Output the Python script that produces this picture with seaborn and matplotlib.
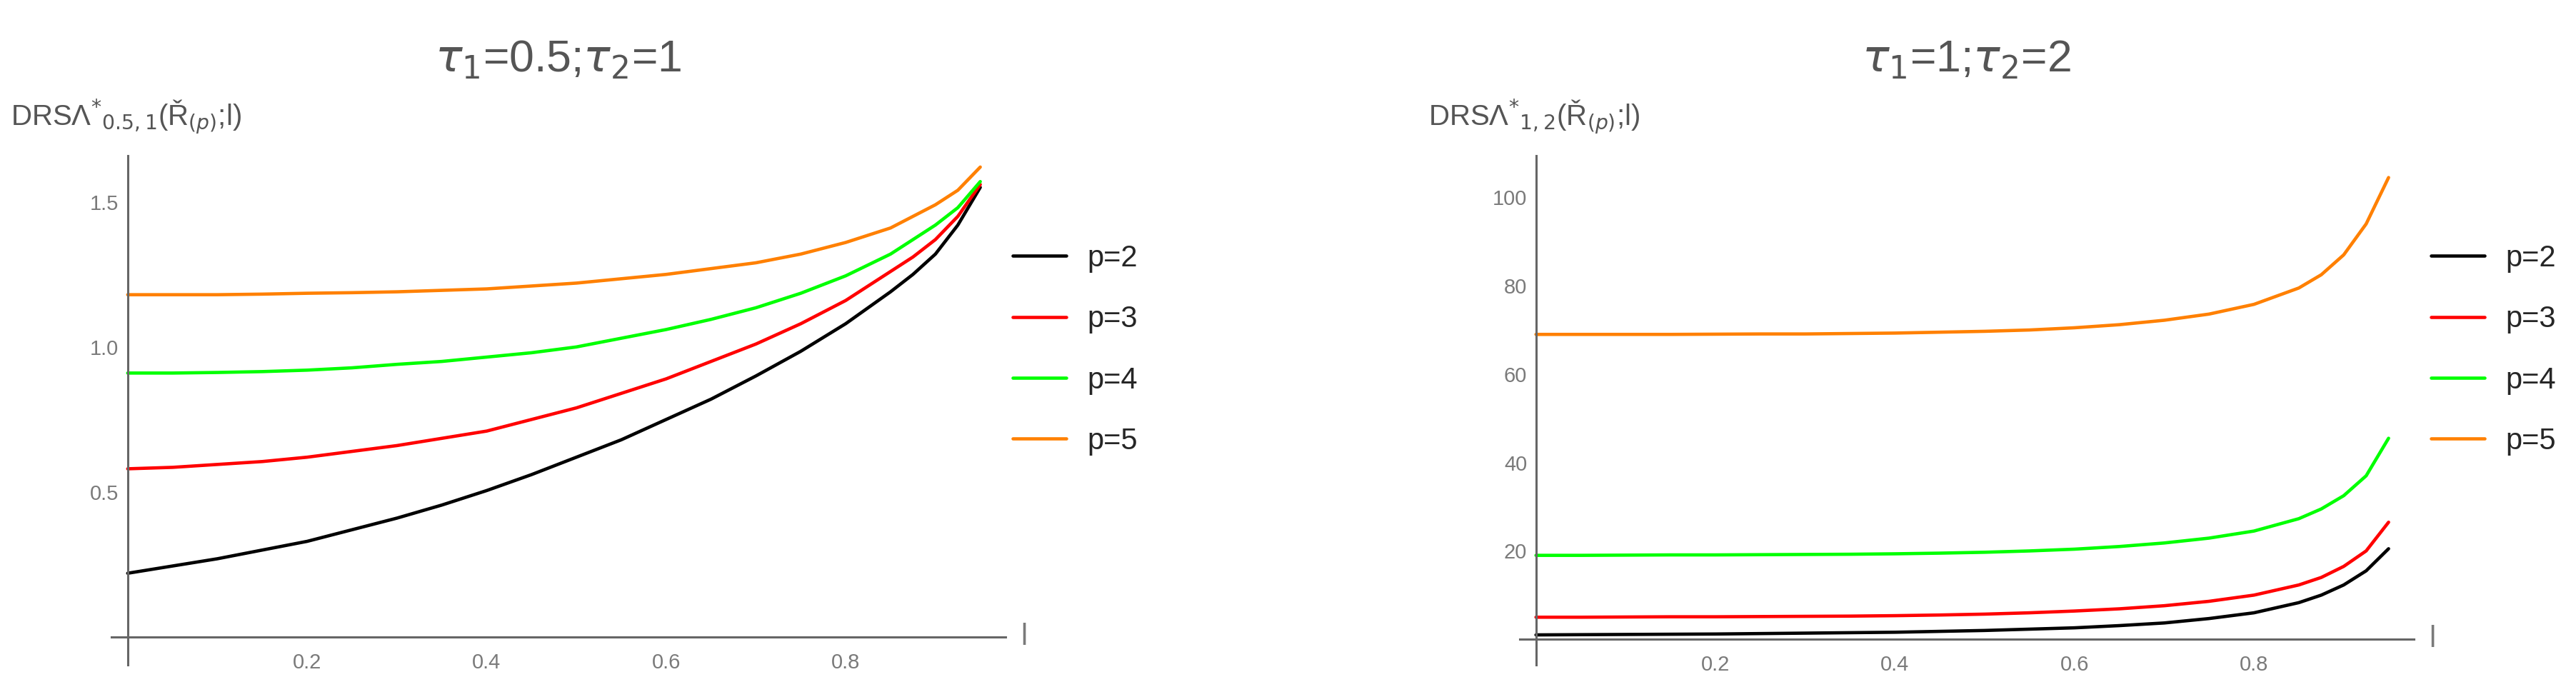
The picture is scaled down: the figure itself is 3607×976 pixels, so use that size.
import matplotlib
matplotlib.use("Agg")
import matplotlib.pyplot as plt
from matplotlib.ticker import FixedLocator
import pandas as pd
import seaborn as sns

# l grid shared by every curve
l_values = [0.0, 0.05, 0.1, 0.15, 0.2, 0.25, 0.3, 0.35, 0.4, 0.45, 0.5, 0.55, 0.6,
            0.65, 0.7, 0.75, 0.8, 0.85, 0.875, 0.9, 0.925, 0.95]

# tau1=0.5, tau2=1
left_p2 = [0.22, 0.245, 0.27, 0.30, 0.33, 0.37, 0.41, 0.455, 0.505, 0.56, 0.62, 0.68, 0.75,
           0.82, 0.90, 0.985, 1.08, 1.19, 1.25, 1.32, 1.42, 1.55]
left_p3 = [0.58, 0.585, 0.595, 0.605, 0.62, 0.64, 0.66, 0.685, 0.71, 0.75, 0.79, 0.84, 0.89,
           0.95, 1.01, 1.08, 1.16, 1.26, 1.31, 1.37, 1.45, 1.56]
left_p4 = [0.91, 0.91, 0.912, 0.915, 0.92, 0.928, 0.94, 0.95, 0.965, 0.98, 1.0, 1.03, 1.06,
           1.095, 1.135, 1.185, 1.245, 1.32, 1.37, 1.42, 1.48, 1.57]
left_p5 = [1.18, 1.18, 1.18, 1.182, 1.185, 1.187, 1.19, 1.195, 1.20, 1.21, 1.22, 1.235, 1.25,
           1.27, 1.29, 1.32, 1.36, 1.41, 1.45, 1.49, 1.54, 1.62]

# tau1=1, tau2=2
right_p2 = [1.0, 1.05, 1.1, 1.15, 1.2, 1.3, 1.4, 1.5, 1.6, 1.8, 2.0, 2.3, 2.6,
            3.1, 3.7, 4.7, 6.0, 8.3, 10.0, 12.3, 15.5, 20.5]
right_p3 = [5.0, 5.0, 5.05, 5.1, 5.1, 5.15, 5.2, 5.25, 5.35, 5.5, 5.7, 6.0, 6.4,
            6.9, 7.6, 8.6, 10.0, 12.3, 14.0, 16.5, 20.0, 26.5]
right_p4 = [19.0, 19.0, 19.05, 19.1, 19.1, 19.15, 19.2, 19.25, 19.35, 19.5, 19.7, 20.0, 20.4,
            21.0, 21.8, 22.9, 24.5, 27.3, 29.5, 32.5, 37.0, 45.5]
right_p5 = [69.0, 69.0, 69.0, 69.0, 69.05, 69.1, 69.1, 69.2, 69.3, 69.5, 69.7, 70.0, 70.5,
            71.2, 72.2, 73.6, 75.8, 79.5, 82.5, 87.0, 94.0, 104.5]

labels = ["p=2", "p=3", "p=4", "p=5"]
colors = ["#000000", "#ff0000", "#00ff00", "#ff8000"]


def to_long(series):
    rows = []
    for lab, vals in zip(labels, series):
        for x, y in zip(l_values, vals):
            rows.append({"l": x, "value": y, "p": lab})
    return pd.DataFrame(rows)


sns.set_style("white")
plt.rcParams["font.family"] = ["Liberation Sans", "DejaVu Sans"]
plt.rcParams["mathtext.fontset"] = "dejavusans"

fig = plt.figure(figsize=(36.07, 9.76), dpi=100)
ax1 = fig.add_axes([0.0433, 0.046, 0.347, 0.731])
ax2 = fig.add_axes([0.590, 0.046, 0.347, 0.731])

panels = [
    (ax1, [left_p2, left_p3, left_p4, left_p5], (-0.096, 1.66),
     [0.5, 1.0, 1.5], [round(0.1 * i, 1) for i in range(1, 17)], ["0.5", "1.0", "1.5"],
     r"$\tau_1$=0.5;$\tau_2$=1", r"DRSΛ$^{*}{}_{0.5,1}$(Ř$_{(p)}$;l)", -0.113, 1.008),
    (ax2, [right_p2, right_p3, right_p4, right_p5], (-5.8, 109.5),
     [20, 40, 60, 80, 100], list(range(5, 110, 5)), ["20", "40", "60", "80", "100"],
     r"$\tau_1$=1;$\tau_2$=2", r"DRSΛ$^{*}{}_{1,2}$(Ř$_{(p)}$;l)", -0.102, 1.019),
]

for ax, series, ylim, yt, ymin, ylab, title, ylabel, ylab_x, leg_x in panels:
    sns.lineplot(data=to_long(series), x="l", y="value", hue="p", palette=colors,
                 linewidth=3.3, ax=ax)
    ax.set_xlim(-0.018, 0.978)
    ax.set_ylim(*ylim)
    for side in ["top", "right"]:
        ax.spines[side].set_visible(False)
    for side in ["left", "bottom"]:
        ax.spines[side].set_position(("data", 0))
        ax.spines[side].set_color("#666666")
        ax.spines[side].set_linewidth(2.2)
    ax.set_xticks([0.2, 0.4, 0.6, 0.8])
    ax.set_xticklabels(["0.2", "0.4", "0.6", "0.8"])
    ax.xaxis.set_minor_locator(FixedLocator([0.05 * i for i in range(1, 20)]))
    ax.set_yticks(yt)
    ax.set_yticklabels(ylab)
    ax.yaxis.set_minor_locator(FixedLocator(ymin))
    ax.tick_params(which="major", direction="in", length=9, width=2.2, color="#666666",
                   labelsize=21, labelcolor="#7a7a7a", pad=9)
    ax.tick_params(axis="x", which="major", pad=16)
    ax.tick_params(which="minor", direction="in", length=5, width=2.0, color="#666666")
    ax.set_xlabel("")
    ax.set_ylabel("")
    ax.text(0.995, 0, "l", transform=ax.transData, fontsize=30, color="#7a7a7a",
            ha="left", va="center")
    ax.set_title(title, fontsize=45, color="#555555", pad=84)
    ax.text(ylab_x, 1.058, ylabel, transform=ax.transAxes, fontsize=29, color="#555555",
            ha="left", va="baseline")
    ax.legend(loc="upper left", bbox_to_anchor=(leg_x, 0.826), frameon=False,
              fontsize=30, borderpad=0, borderaxespad=0, handlelength=1.8,
              handletextpad=0.72, labelspacing=1.09)

fig.savefig("out.png", dpi=100, facecolor="white")
